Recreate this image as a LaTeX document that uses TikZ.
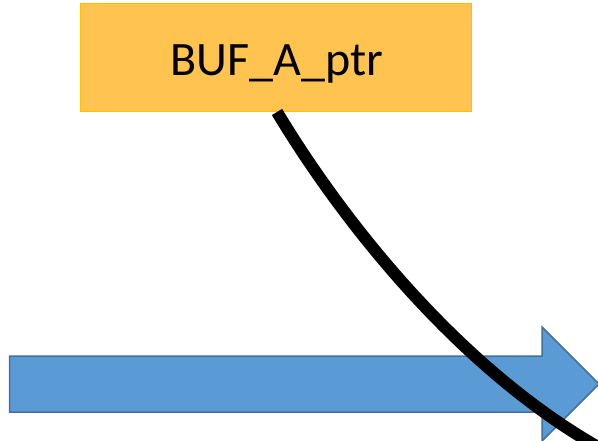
\documentclass[tikz,border=0pt]{standalone}
\usepackage{fontspec}
\setmainfont{Carlito}
\definecolor{boxfill}{HTML}{FFC44F}
\definecolor{boxedge}{HTML}{FFC000}
\definecolor{arrfill}{HTML}{5B9BD5}
\definecolor{arredge}{HTML}{41719C}
\tikzset{
  ptrbox/.style={draw=boxedge, line width=1pt, fill=boxfill, minimum width=391pt, minimum height=108pt, inner sep=0pt},
  ptrlabel/.style={font=\fontsize{48}{54}\selectfont, inner sep=0pt, anchor=base},
  bigarrow/.style={draw=arredge, line width=1.5pt, fill=arrfill, line join=miter},
  pointer/.style={line width=12pt, black, line cap=butt}
}
\begin{document}
\begin{tikzpicture}[x=1pt,y=-1pt]
\useasboundingbox (0,0) rectangle (598,441);
\fill[white] (0,0) rectangle (598,441);
\draw[bigarrow] (9.5,356) -- (542,356) -- (542,327) -- (599,384) -- (542,441) -- (542,412) -- (9.5,412) -- cycle;
\node[ptrbox] (buf) at (275.5,58) {};
\node[ptrlabel] (buflabel) at (277,76) {BUF\_A\_ptr};
\coordinate (endpt) at (598,447);
\draw[pointer] (277,112) .. controls (345,225) and (460,368) .. (endpt);
\end{tikzpicture}
\end{document}
